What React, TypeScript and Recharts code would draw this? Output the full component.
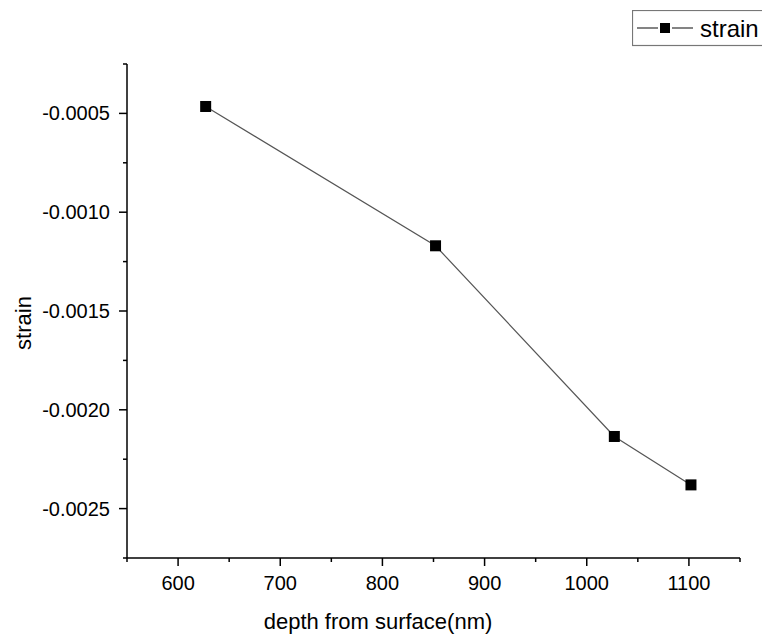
import React from 'react';
import { LineChart, Line, XAxis, YAxis, Label } from 'recharts';

const depths = [627, 852, 1027, 1102];
const strains = [-0.000465, -0.00117, -0.002135, -0.00238];
const xTicks = [550, 600, 650, 700, 750, 800, 850, 900, 950, 1000, 1050, 1100, 1150];
const yTicks = [-0.00025, -0.0005, -0.00075, -0.001, -0.00125, -0.0015, -0.00175, -0.002, -0.00225, -0.0025, -0.00275];

const data = depths.map((d, i) => ({ depth: d, strain: strains[i] }));

const FONT = 'Arial, "Liberation Sans", sans-serif';

const XTick = (props: any) => {
    const { x, y, payload } = props;
    const v = payload.value;
    const major = v % 100 === 0;
    return (
        <g>
            <line x1={x} x2={x} y1={y} y2={y + (major ? 8 : 4)} stroke="#000" strokeWidth={1.5} />
            {major && (
                <text x={x} y={y + 32} textAnchor="middle" fontSize={20} fontFamily={FONT} fill="#000">
                    {v}
                </text>
            )}
        </g>
    );
};

const YTick = (props: any) => {
    const { x, y, payload } = props;
    const v = payload.value;
    const r = v / 0.0005;
    const major = Math.abs(r - Math.round(r)) < 1e-6;
    return (
        <g>
            <line x1={x} x2={x - (major ? 8 : 4)} y1={y} y2={y} stroke="#000" strokeWidth={1.5} />
            {major && (
                <text x={x - 17} y={y + 7} textAnchor="end" fontSize={20} fontFamily={FONT} fill="#000">
                    {v.toFixed(4)}
                </text>
            )}
        </g>
    );
};

const Square = (props: any) => {
    const { cx, cy } = props;
    if (cx == null || cy == null) return null;
    return <rect x={cx - 5.5} y={cy - 5.5} width={11} height={11} fill="#000" />;
};

// legend drawn as an overlay, the box runs off the right edge like the original
const LegendBox = () => (
    <svg width={140} height={38} style={{ display: 'block' }}>
        <rect x={0.5} y={0.5} width={150} height={35} fill="#fff" stroke="#777" strokeWidth={1.2} />
        <line x1={5} x2={26} y1={18} y2={18} stroke="#333" strokeWidth={1.2} />
        <line x1={40} x2={61} y1={18} y2={18} stroke="#333" strokeWidth={1.2} />
        <rect x={28} y={13} width={10} height={10} fill="#000" />
        <text x={68} y={27} fontSize={24} fontFamily={FONT} fill="#000">
            strain
        </text>
    </svg>
);

export default function App() {
    return (
        <div style={{ position: 'absolute', left: 0, top: 0, width: 762, height: 637, overflow: 'hidden', background: '#fff' }}>
            <LineChart width={762} height={637} data={data} margin={{ top: 64, right: 22, bottom: 0, left: 0 }}>
                <XAxis
                    dataKey="depth"
                    type="number"
                    domain={[550, 1150]}
                    ticks={xTicks}
                    interval={0}
                    height={79}
                    tickSize={0}
                    tickMargin={0}
                    tickLine={false}
                    tick={<XTick />}
                    axisLine={{ stroke: '#000', strokeWidth: 1.5 }}
                >
                    <Label
                        content={() => (
                            <text x={378} y={629} textAnchor="middle" fontSize={22} fontFamily={FONT} fill="#000">
                                depth from surface(nm)
                            </text>
                        )}
                    />
                </XAxis>
                <YAxis
                    type="number"
                    domain={[-0.00275, -0.00025]}
                    ticks={yTicks}
                    interval={0}
                    width={127}
                    tickSize={0}
                    tickMargin={0}
                    tickLine={false}
                    tick={<YTick />}
                    axisLine={{ stroke: '#000', strokeWidth: 1.5 }}
                >
                    <Label
                        content={() => (
                            <text x={31} y={323} transform="rotate(-90 31 323)" textAnchor="middle" fontSize={22} fontFamily={FONT} fill="#000">
                                strain
                            </text>
                        )}
                    />
                </YAxis>
                <Line
                    type="linear"
                    dataKey="strain"
                    stroke="#555"
                    strokeWidth={1.2}
                    dot={<Square />}
                    activeDot={false}
                    isAnimationActive={false}
                />
            </LineChart>
            <div style={{ position: 'absolute', top: 10, left: 632 }}>
                <LegendBox />
            </div>
        </div>
    );
}
